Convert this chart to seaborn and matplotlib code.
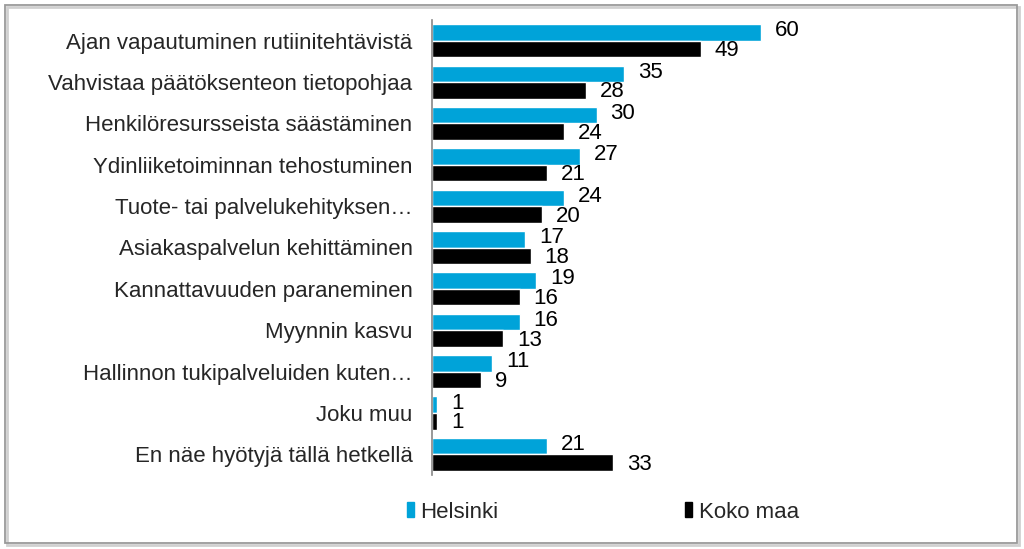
import matplotlib
matplotlib.use("Agg")
import matplotlib.pyplot as plt
import matplotlib.patches as mpatches
import pandas as pd
import seaborn as sns

# data
categories = [
    "Ajan vapautuminen rutiinitehtävistä",
    "Vahvistaa päätöksenteon tietopohjaa",
    "Henkilöresursseista säästäminen",
    "Ydinliiketoiminnan tehostuminen",
    "Tuote- tai palvelukehityksen…",
    "Asiakaspalvelun kehittäminen",
    "Kannattavuuden paraneminen",
    "Myynnin kasvu",
    "Hallinnon tukipalveluiden kuten…",
    "Joku muu",
    "En näe hyötyjä tällä hetkellä",
]
helsinki = [60, 35, 30, 27, 24, 17, 19, 16, 11, 1, 21]
koko_maa = [49, 28, 24, 21, 20, 18, 16, 13, 9, 1, 33]
series = ["Helsinki", "Koko maa"]
colors = ["#00A3D9", "#000000"]

df = pd.DataFrame({
    "cat": categories * 2,
    "val": helsinki + koko_maa,
    "series": [series[0]] * len(categories) + [series[1]] * len(categories),
})

sns.set_theme(style="white")
plt.rcParams["font.family"] = ["Liberation Sans", "DejaVu Sans"]
FS = 16

fig = plt.figure(figsize=(10.24, 5.49), dpi=100)
ax = fig.add_axes([432 / 1024, 1 - 475 / 549, 384 / 1024, 455 / 549])

sns.barplot(data=df, y="cat", x="val", hue="series", palette=colors,
            orient="h", width=0.8, saturation=1, ax=ax, legend=False)

# value labels, nudged a little apart vertically
for cont, dy in zip(ax.containers, [1.2, -1.2]):
    for ann in ax.bar_label(cont, padding=10, fontsize=FS, color="black"):
        ann.xyann = (10, dy)

ax.set_xlim(0, 70)
ax.set_ylim(len(categories) - 0.5, -0.5)
ax.set_xlabel("")
ax.set_ylabel("")
ax.set_xticks([])
ax.tick_params(axis="y", length=0, pad=14, labelsize=FS)
for side in ["top", "right", "bottom"]:
    ax.spines[side].set_visible(False)
ax.spines["left"].set_color("#868686")
ax.spines["left"].set_linewidth(1.2)

handles = [mpatches.Patch(color=c, label=s) for c, s in zip(colors, series)]
fig.legend(handles=handles, loc="center", bbox_to_anchor=(603 / 1024, 1 - 512 / 549),
           ncol=2, frameon=False, fontsize=FS, handlelength=0.32, handleheight=0.65,
           handletextpad=0.3, columnspacing=8.4)

# outer frame with soft shadow
shadow = mpatches.Rectangle((7 / 1024, 1 - 545 / 549), 1012 / 1024, 538 / 549,
                            transform=fig.transFigure, fill=False,
                            edgecolor="#D0D0D0", linewidth=2, zorder=0)
frame = mpatches.Rectangle((5 / 1024, 1 - 543 / 549), 1012 / 1024, 538 / 549,
                           transform=fig.transFigure, fill=False,
                           edgecolor="#9A9A9A", linewidth=1.3, zorder=1)
fig.patches.extend([shadow, frame])

fig.savefig("out.png", dpi=100)
